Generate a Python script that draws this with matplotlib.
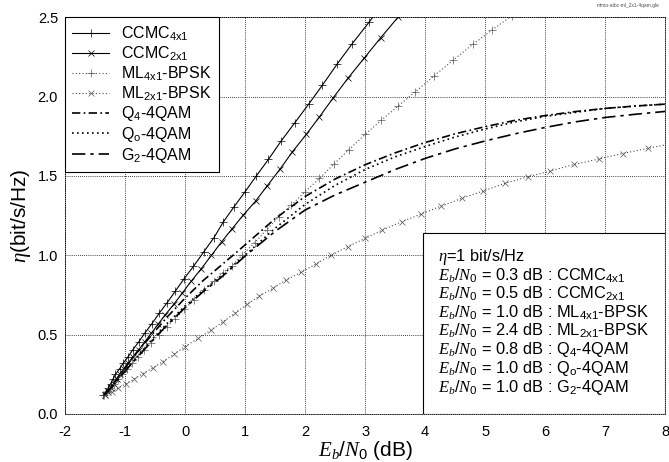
import matplotlib
matplotlib.use("Agg")
import matplotlib.pyplot as plt

plt.rcParams["font.family"] = ["Liberation Sans", "DejaVu Sans"]
plt.rcParams["mathtext.fontset"] = "custom"
plt.rcParams["mathtext.rm"] = "Liberation Sans"
plt.rcParams["mathtext.it"] = "Liberation Serif:italic"
plt.rcParams["mathtext.bf"] = "Liberation Sans:bold"
plt.rcParams["axes.unicode_minus"] = False

# CCMC 4x1 (solid, +)
ccmc4_x = [-1.36, -1.32, -1.28, -1.24, -1.20, -1.16, -1.09, -1.03, -0.95, -0.87,
           -0.77, -0.67, -0.55, -0.43, -0.30, -0.16, -0.02, 0.14, 0.31, 0.48,
           0.64, 0.81, 1.00, 1.19, 1.39, 1.60, 1.83, 2.06, 2.29, 2.53,
           2.78, 3.07, 3.33]
ccmc4_y = [0.12, 0.14, 0.165, 0.19, 0.22, 0.25, 0.285, 0.32, 0.36, 0.405,
           0.455, 0.51, 0.57, 0.635, 0.70, 0.775, 0.85, 0.93, 1.02, 1.11,
           1.211, 1.302, 1.40, 1.501, 1.604, 1.719, 1.835, 1.952, 2.072, 2.202,
           2.330, 2.470, 2.60]

# CCMC 2x1 (solid, x)
ccmc2_x = [-1.33, -1.29, -1.24, -1.19, -1.14, -1.09, -1.02, -0.95, -0.87, -0.77,
           -0.67, -0.56, -0.45, -0.33, -0.19, -0.05, 0.10, 0.27, 0.44, 0.61,
           0.78, 0.97, 1.18, 1.37, 1.58, 1.79, 2.02, 2.24, 2.47, 2.72,
           2.99, 3.26, 3.55, 3.85]
ccmc2_y = [0.12, 0.14, 0.165, 0.19, 0.22, 0.25, 0.285, 0.32, 0.36, 0.405,
           0.455, 0.51, 0.565, 0.625, 0.69, 0.76, 0.835, 0.915, 1.0, 1.085,
           1.165, 1.253, 1.343, 1.438, 1.541, 1.652, 1.761, 1.872, 1.992, 2.118,
           2.244, 2.37, 2.50, 2.63]

# ML 4x1 BPSK (dotted, +)
ml4_x = [-1.35, -1.30, -1.25, -1.19, -1.12, -1.05, -0.97, -0.88, -0.79, -0.68,
         -0.56, -0.44, -0.30, -0.16, -0.01, 0.15, 0.32, 0.48, 0.63, 0.78,
         0.95, 1.16, 1.36, 1.56, 1.77, 2.00, 2.24, 2.48, 2.73, 3.00,
         3.27, 3.55, 3.84, 4.15, 4.47, 4.80, 5.12, 5.45]
ml4_y = [0.12, 0.14, 0.165, 0.19, 0.22, 0.25, 0.285, 0.32, 0.36, 0.405,
         0.45, 0.50, 0.55, 0.60, 0.66, 0.72, 0.78, 0.84, 0.89, 0.935,
         1.0, 1.08, 1.16, 1.243, 1.316, 1.40, 1.484, 1.574, 1.665, 1.761,
         1.85, 1.94, 2.03, 2.13, 2.23, 2.33, 2.42, 2.51]

# ML 2x1 BPSK (dotted, x)
ml2_x = [-1.33, -1.22, -1.11, -0.99, -0.85, -0.70, -0.54, -0.37, -0.19, 0.00,
         0.22, 0.43, 0.63, 0.83, 1.03, 1.24, 1.46, 1.68, 1.93, 2.18,
         2.43, 2.71, 3.00, 3.29, 3.61, 3.93, 4.27, 4.61, 4.96, 5.33,
         5.71, 6.08, 6.48, 6.89, 7.29, 7.71, 8.13]
ml2_y = [0.12, 0.14, 0.165, 0.19, 0.22, 0.255, 0.29, 0.33, 0.375, 0.425,
         0.477, 0.528, 0.58, 0.635, 0.69, 0.743, 0.791, 0.844, 0.892, 0.945,
         0.999, 1.054, 1.106, 1.159, 1.211, 1.259, 1.310, 1.358, 1.404, 1.453,
         1.494, 1.530, 1.572, 1.606, 1.641, 1.673, 1.705]

# 4QAM curves
q4_x = [-1.35, -1.2, -1.0, -0.8, -0.55, -0.3, 0.0, 0.3, 0.55, 0.8, 1.0, 1.5, 2.0,
        2.5, 3.0, 3.5, 4.0, 4.5, 5.0, 5.5, 6.0, 6.5, 7.0, 7.5, 8.0]
q4_y = [0.12, 0.19, 0.29, 0.39, 0.50, 0.61, 0.73, 0.84, 0.92, 1.0, 1.065, 1.23, 1.37,
        1.48, 1.57, 1.645, 1.71, 1.765, 1.81, 1.85, 1.88, 1.905, 1.925, 1.94, 1.952]

qo_x = [-1.35, -1.2, -1.0, -0.8, -0.55, -0.3, 0.0, 0.3, 0.6, 1.0, 1.5, 2.0,
        2.5, 3.0, 3.5, 4.0, 4.5, 5.0, 5.5, 6.0, 6.5, 7.0, 7.5, 8.0]
qo_y = [0.12, 0.18, 0.27, 0.36, 0.47, 0.57, 0.68, 0.78, 0.87, 1.0, 1.17, 1.32,
        1.44, 1.54, 1.62, 1.685, 1.745, 1.795, 1.84, 1.875, 1.90, 1.925, 1.94, 1.952]

g2_x = [-1.35, -1.2, -1.0, -0.8, -0.55, -0.3, 0.0, 0.3, 0.6, 1.0, 1.5, 2.0,
        2.5, 3.0, 3.5, 4.0, 4.5, 5.0, 5.5, 6.0, 6.5, 7.0, 7.5, 8.0]
g2_y = [0.12, 0.18, 0.27, 0.355, 0.46, 0.56, 0.67, 0.77, 0.86, 0.995, 1.15, 1.285,
        1.38, 1.46, 1.54, 1.61, 1.67, 1.72, 1.765, 1.805, 1.84, 1.868, 1.888, 1.906]

table_vals = ["0.3", "0.5", "1.0", "2.4", "0.8", "1.0", "1.0"]
table_names = [r"CCMC$_{\mathrm{4x1}}$", r"CCMC$_{\mathrm{2x1}}$",
               r"ML$_{\mathrm{4x1}}$-BPSK", r"ML$_{\mathrm{2x1}}$-BPSK",
               r"Q$_{\mathrm{4}}$-4QAM", r"Q$_{\mathrm{o}}$-4QAM", r"G$_{\mathrm{2}}$-4QAM"]

fig = plt.figure(figsize=(6.69, 4.62), dpi=100)
ax = fig.add_axes([0.0972, 0.1039, 0.897, 0.859])

ms = 6
ax.plot(ccmc4_x, ccmc4_y, "-", color="k", lw=0.8, marker="+", ms=ms, mew=0.5,
        label=table_names[0])
ax.plot(ccmc2_x, ccmc2_y, "-", color="k", lw=0.8, marker="x", ms=ms * 0.75, mew=0.5,
        label=table_names[1])
ax.plot(ml4_x, ml4_y, color="0.3", lw=0.8, ls=(0, (1, 2)), marker="+", ms=ms,
        mew=0.5, mec="0.35", label=table_names[2])
ax.plot(ml2_x, ml2_y, color="0.3", lw=0.8, ls=(0, (1, 2)), marker="x", ms=ms * 0.75,
        mew=0.5, mec="0.35", label=table_names[3])
ax.plot(q4_x, q4_y, color="k", lw=1.2, ls=(0, (5, 2, 1, 2)), label=table_names[4])
ax.plot(qo_x, qo_y, color="k", lw=1.2, ls=(0, (1, 2)), label=table_names[5])
ax.plot(g2_x, g2_y, color="k", lw=1.2, ls=(0, (8, 3, 2, 3)), label=table_names[6])

ax.set_xlim(-2, 8)
ax.set_ylim(0, 2.5)
ax.set_xticks(range(-2, 9))
ax.set_yticks([0.0, 0.5, 1.0, 1.5, 2.0, 2.5])
ax.set_yticklabels(["0.0", "0.5", "1.0", "1.5", "2.0", "2.5"])
ax.tick_params(length=0, labelsize=10.5)
ax.tick_params(axis="x", pad=8)
ax.tick_params(axis="y", pad=5)
ax.grid(True, color="k", lw=0.6, ls=(0, (1, 1.5)))
for s in ax.spines.values():
    s.set_linestyle((0, (1, 1.5)))
    s.set_linewidth(0.6)

ax.set_xlabel(r"$E_b/N_0$ (dB)", fontsize=15, labelpad=0)
ax.set_ylabel(r"$\eta$(bit/s/Hz)", fontsize=15, labelpad=3)

leg = ax.legend(loc="upper left", bbox_to_anchor=(0, 1), borderaxespad=0,
                fancybox=False, edgecolor="k", framealpha=1, fontsize=11.5,
                handlelength=2.3, handletextpad=0.75, borderpad=0.45,
                labelspacing=0.1)
leg.get_frame().set_linewidth(0.8)

lines = [r"$\eta$=1 bit/s/Hz"] + [
    r"$E_b/N_0$ = " + v + " dB : " + n for v, n in zip(table_vals, table_names)]
box = plt.Rectangle((0.596, 0.0), 0.404, 0.456, transform=ax.transAxes,
                    fc="white", ec="k", lw=0.8, zorder=2.5)
ax.add_patch(box)
ax.text(0.622, 0.422, "\n".join(lines), transform=ax.transAxes, fontsize=11.8,
        va="top", ha="left", linespacing=1.0, zorder=3)

fig.text(0.985, 0.993, "mimo-atbc-ml_2x1-4qam.gle", fontsize=3.5, ha="right",
         va="top", color="0.3")

fig.savefig("out.png", dpi=100)
